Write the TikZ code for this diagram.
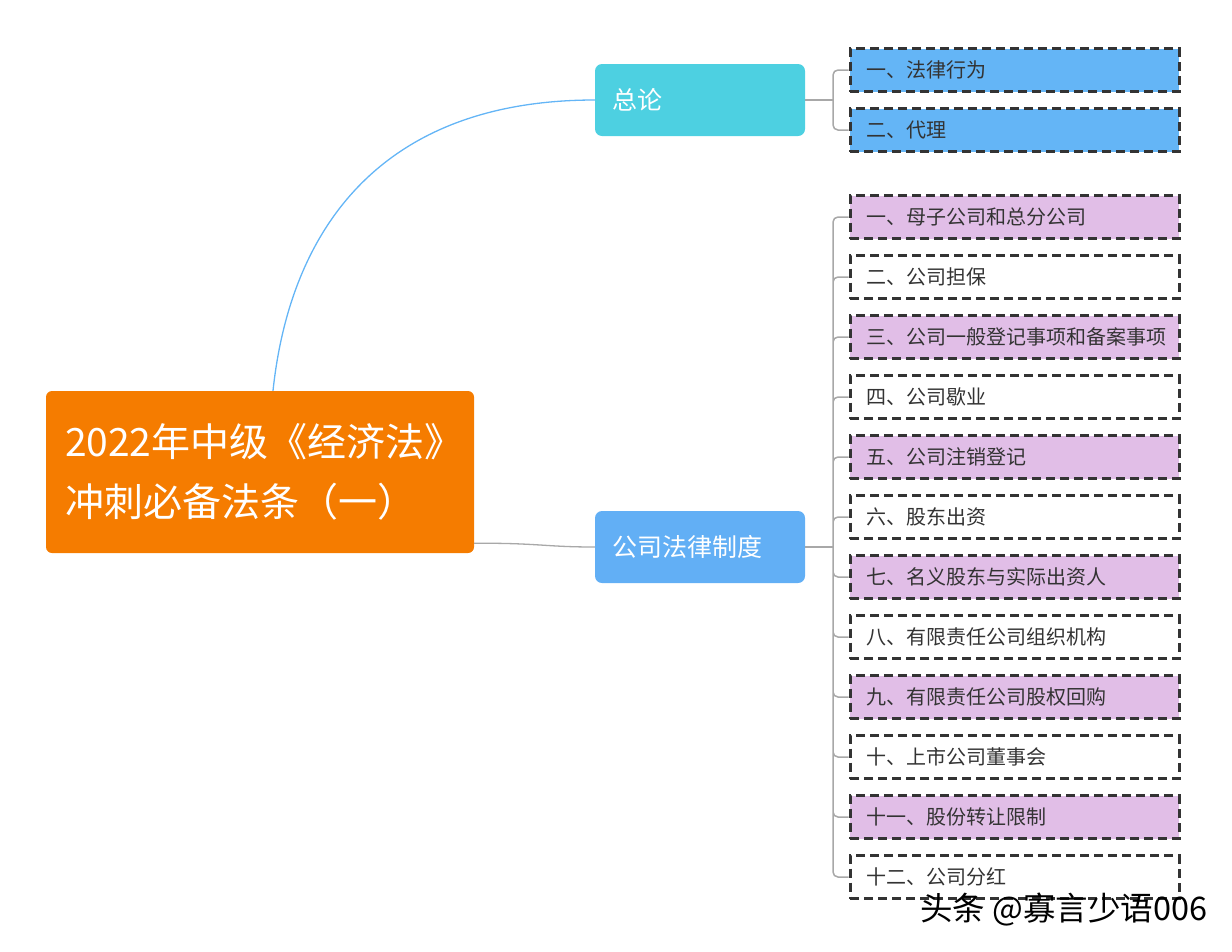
\documentclass[tikz,border=0pt]{standalone}
\usepackage{fontspec}
\setmainfont{Noto Sans CJK SC}
\usetikzlibrary{positioning}
\definecolor{rootorange}{HTML}{F57C00}
\definecolor{topiccyan}{HTML}{4DD0E1}
\definecolor{topicblue}{HTML}{62AFF5}
\definecolor{leafblue}{HTML}{64B5F6}
\definecolor{leafpurple}{HTML}{E1BEE7}
\definecolor{dashgray}{HTML}{333333}
\definecolor{linkgray}{HTML}{A8A8A8}

\tikzset{
  rootbox/.style={fill=rootorange, text=white, rounded corners=6pt, align=left,
    text width=390pt, inner xsep=19pt, minimum height=162pt,
    font=\fontsize{39}{60}\selectfont},
  topic/.style={text=white, rounded corners=7pt, align=left,
    text width=176pt, inner xsep=17pt, minimum height=72pt,
    font=\fontsize{25}{30}\selectfont},
  leaf/.style={draw=dashgray, line width=3.2pt, dash pattern=on 9pt off 5pt,
    anchor=west, align=left, text width=296pt, inner xsep=16.5pt, inner ysep=0pt,
    minimum height=43pt, text=dashgray, font=\fontsize{20}{24}\selectfont},
  link/.style={draw=linkgray, line width=1.5pt, rounded corners=5pt}
}

\begin{document}
\begin{tikzpicture}[x=1pt,y=-1pt]
\useasboundingbox (0,0) rectangle (1232,951);

\node[rootbox] (root) at (260,472) {\raisebox{-5pt}{2022年中级《经济法》}\\\raisebox{-5pt}{冲刺必备法条（一）}};
\node[topic, fill=topiccyan] (zonglun) at (700,100) {总论};
\node[topic, fill=topicblue] (gongsi) at (700,547) {公司法律制度};

\node[leaf, fill=leafblue] (zl1) at (848.5,70) {一、法律行为};
\node[leaf, fill=leafblue] (zl2) at (848.5,130) {二、代理};

\node[leaf, fill=leafpurple] (gs1) at (848.5,217) {一、母子公司和总分公司};
\node[leaf, fill=white] (gs2) at (848.5,277) {二、公司担保};
\node[leaf, fill=leafpurple] (gs3) at (848.5,337) {三、公司一般登记事项和备案事项};
\node[leaf, fill=white] (gs4) at (848.5,397) {四、公司歇业};
\node[leaf, fill=leafpurple] (gs5) at (848.5,457) {五、公司注销登记};
\node[leaf, fill=white] (gs6) at (848.5,517) {六、股东出资};
\node[leaf, fill=leafpurple] (gs7) at (848.5,577) {七、名义股东与实际出资人};
\node[leaf, fill=white] (gs8) at (848.5,637) {八、有限责任公司组织机构};
\node[leaf, fill=leafpurple] (gs9) at (848.5,697) {九、有限责任公司股权回购};
\node[leaf, fill=white] (gs10) at (848.5,757) {十、上市公司董事会};
\node[leaf, fill=leafpurple] (gs11) at (848.5,817) {十一、股份转让限制};
\node[leaf, fill=white] (gs12) at (848.5,877) {十二、公司分红};

\coordinate (zlfork) at (833,100);
\coordinate (gsfork) at (833,547);

\draw[leafblue, line width=1.3pt] ([xshift=13pt]root.north) .. controls (290,230) and (380,100) .. (zonglun.west);
\draw[linkgray, line width=1.3pt] ([yshift=10pt]root.south east) .. controls (540,543) and (545,547) .. (gongsi.west);

\draw[link] (zonglun.east) -- (zlfork);
\draw[link] (zlfork) |- (zl1.west) (zlfork) |- (zl2.west);

\draw[link] (gongsi.east) -- (gsfork);
\draw[link] (gsfork) |- (gs1.west) (gsfork) |- (gs2.west) (gsfork) |- (gs3.west)
  (gsfork) |- (gs4.west) (gsfork) |- (gs5.west) (gsfork) |- (gs6.west)
  (gsfork) |- (gs7.west) (gsfork) |- (gs8.west) (gsfork) |- (gs9.west)
  (gsfork) |- (gs10.west) (gsfork) |- (gs11.west) (gsfork) |- (gs12.west);

\node[anchor=west, font=\fontsize{32.5}{33}\selectfont, text=black, inner sep=0pt] (mark) at (920,910) {头条 @寡言少语006};

\end{tikzpicture}
\end{document}
